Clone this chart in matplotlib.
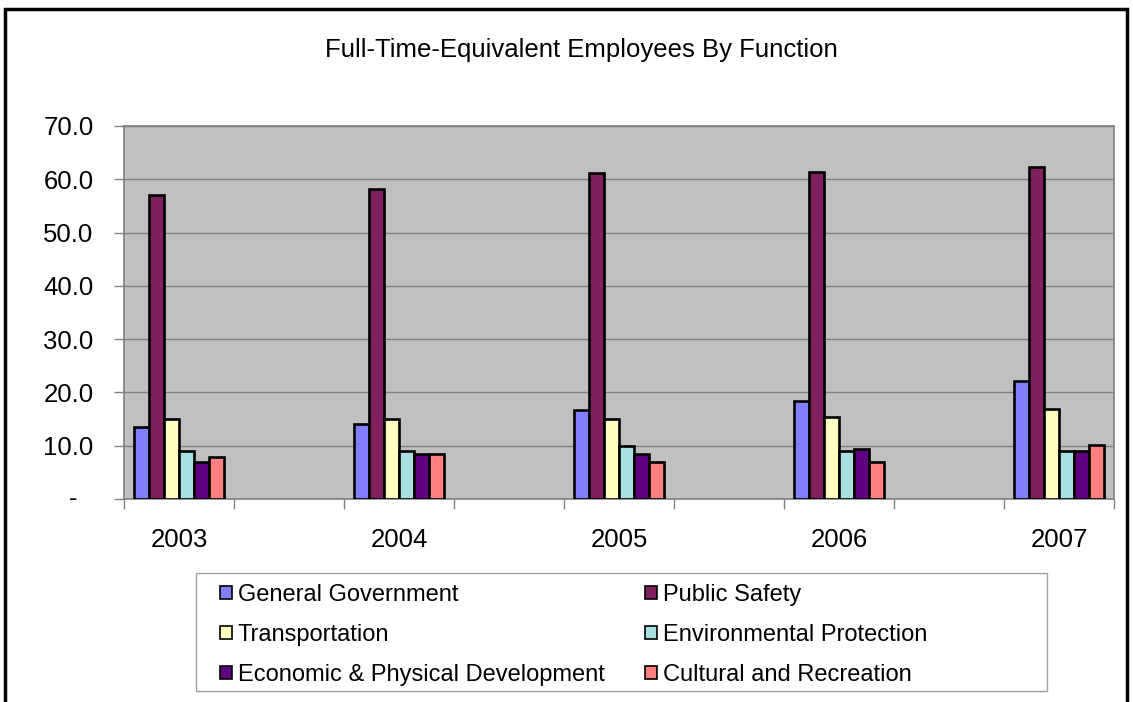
import numpy as np
import matplotlib
matplotlib.use("Agg")
import matplotlib.pyplot as plt
from matplotlib.patches import Rectangle

# Full-time-equivalent employees by function, fiscal years 2003-2007
years = ["2003", "2004", "2005", "2006", "2007"]
general_government = [13.6, 14.0, 16.7, 18.4, 22.1]
public_safety = [57.1, 58.1, 61.1, 61.4, 62.3]
transportation = [15.0, 15.0, 15.0, 15.4, 16.9]
environmental_protection = [9.0, 9.0, 9.9, 9.0, 9.0]
economic_development = [7.0, 8.4, 8.4, 9.4, 9.0]
cultural_recreation = [7.9, 8.4, 7.0, 7.0, 10.1]

series_names = ["General Government", "Public Safety", "Transportation",
                "Environmental Protection", "Economic & Physical Development",
                "Cultural and Recreation"]
series_values = [general_government, public_safety, transportation,
                 environmental_protection, economic_development, cultural_recreation]
colors = ["#8080FF", "#80205F", "#FFFFC0", "#A6E0E0", "#600080", "#FF8080"]

y_ticks = [0, 10, 20, 30, 40, 50, 60, 70]
y_labels = ["", "10.0", "20.0", "30.0", "40.0", "50.0", "60.0", "70.0"]

plt.rcParams["font.family"] = ["Liberation Sans", "DejaVu Sans"]
fs = 18.5
leg_fs = 17

W, H = 1133, 702
fig = plt.figure(figsize=(W / 100, H / 100), dpi=100)
ax = fig.add_axes([124 / W, 1 - 499 / H, (1114 - 124) / W, (499 - 126) / H])
ax.set_facecolor("#C0C0C0")

# The worksheet has blank rows between the years, so each year sits in
# every other category slot
n_slots = 2 * len(years) - 1
pos = np.arange(0, n_slots, 2)
bar_w = 15 / 110
for i, (name, vals, c) in enumerate(zip(series_names, series_values, colors)):
    x = pos + (i - 2.5) * bar_w
    ax.bar(x, vals, width=bar_w, color=c, edgecolor="black", linewidth=1.9,
           label=name, zorder=3)

ax.set_xlim(-0.5, n_slots - 0.5)
ax.set_ylim(0, 70)

ax.set_yticks(y_ticks, labels=y_labels)
ax.tick_params(axis="y", length=7, width=1, color="#808080", pad=15, labelsize=fs)
# zero shown as an accounting-style dash
ax.text(-0.0515, 0, "-", transform=ax.get_yaxis_transform(), fontsize=fs,
        ha="center", va="center")
ax.grid(axis="y", color="#808080", linewidth=1, zorder=0)

ax.set_xticks(pos, labels=years)
ax.set_xticks(np.arange(-0.5, n_slots, 1), minor=True)
ax.tick_params(axis="x", which="major", length=0, pad=21, labelsize=fs)
ax.tick_params(axis="x", which="minor", length=7, width=1, color="#808080")

for side in ["left", "bottom", "top", "right"]:
    ax.spines[side].set_color("#808080")
    ax.spines[side].set_linewidth(1.2)

fig.text(581 / W, 1 - 50 / H, "Full-Time-Equivalent Employees By Function",
         fontsize=fs, ha="center", va="center")

handles, labels = ax.get_legend_handles_labels()
order = [0, 2, 4, 1, 3, 5]
leg = fig.legend([handles[k] for k in order], [labels[k] for k in order],
                 ncol=2, loc="center left",
                 bbox_to_anchor=(220 / W, 1 - 645 / H, (927 - 220) / W, 20 / H),
                 mode="expand", fontsize=leg_fs, frameon=False,
                 handlelength=0.5, handleheight=0.5, handletextpad=0.25,
                 labelspacing=0.76, borderaxespad=0, borderpad=0)
for h in leg.legend_handles:
    h.set_linewidth(1.2)

# Legend frame
fig.add_artist(Rectangle((196 / W, 1 - 691 / H), (1047 - 196) / W, (691 - 573) / H,
                         transform=fig.transFigure, fill=False,
                         edgecolor="#A0A0A0", linewidth=1))

# Outer chart border
fig.add_artist(Rectangle((5 / W, -0.05), (1127 - 5) / W, 1.05 - 9 / H,
                         transform=fig.transFigure, fill=False,
                         edgecolor="black", linewidth=2.5))

fig.savefig("out.png", dpi=100)
